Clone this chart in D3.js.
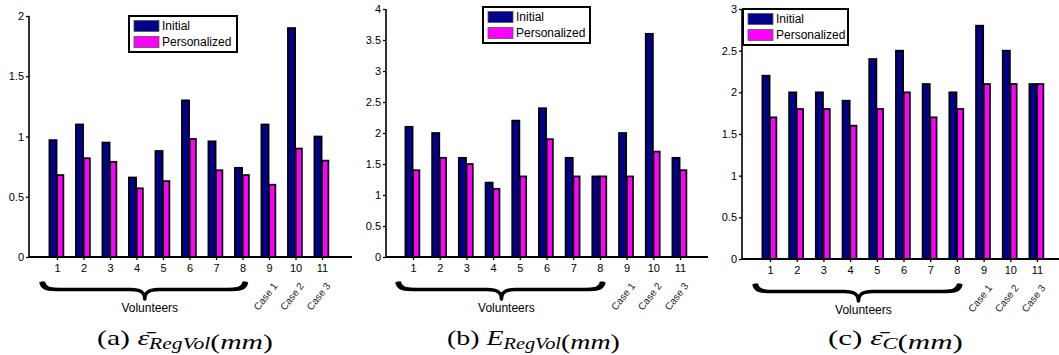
<!DOCTYPE html>
<html>
<head>
<meta charset="utf-8">
<script src="https://cdn.jsdelivr.net/npm/d3@7"></script>
<style>
  html, body { margin: 0; padding: 0; background: #fff; }
  svg { display: block; }
</style>
</head>
<body>
<svg id="chart" width="1059" height="355"></svg>
<script>
// ---------------- data ----------------
const categories = ["1","2","3","4","5","6","7","8","9","10","11"];
const caseLabels = ["Case 1","Case 2","Case 3"];
const caseCategories = ["9","10","11"];
const volunteerCategories = ["1","2","3","4","5","6","7","8"];
const seriesNames = ["Initial","Personalized"];
const groupLabel = "Volunteers";

// (a) mean epsilon RegVol (mm)
const initialA      = [0.97, 1.10, 0.95, 0.66, 0.88, 1.30, 0.96, 0.74, 1.10, 1.90, 1.00];
const personalizedA = [0.68, 0.82, 0.79, 0.57, 0.63, 0.98, 0.72, 0.68, 0.60, 0.90, 0.80];
// (b) E RegVol (mm)
const initialB      = [2.1, 2.0, 1.6, 1.2, 2.2, 2.4, 1.6, 1.3, 2.0, 3.6, 1.6];
const personalizedB = [1.4, 1.6, 1.5, 1.1, 1.3, 1.9, 1.3, 1.3, 1.3, 1.7, 1.4];
// (c) mean epsilon C (mm)
const initialC      = [2.2, 2.0, 2.0, 1.9, 2.4, 2.5, 2.1, 2.0, 2.8, 2.5, 2.1];
const personalizedC = [1.7, 1.8, 1.8, 1.6, 1.8, 2.0, 1.7, 1.8, 2.1, 2.1, 2.1];

const yTicksA = [0, 0.5, 1, 1.5, 2];
const yTicksB = [0, 0.5, 1, 1.5, 2, 2.5, 3, 3.5, 4];
const yTicksC = [0, 0.5, 1, 1.5, 2, 2.5, 3];

// caption pieces: [text, style] ; r=roman, i=italic, s=italic subscript, bar=epsilon with bar
const captionA = [["(a) ","r"],["ε","bar"],["RegVol","s"],["(","r"],["mm","i"],[")","r"]];
const captionB = [["(b) ","r"],["E","i"],["RegVol","s"],["(","r"],["mm","i"],[")","r"]];
const captionC = [["(c) ","r"],["ε","bar"],["C","s"],["(","r"],["mm","i"],[")","r"]];

// ---------------- layout ----------------
const SANS = "'Liberation Sans', Arial, Helvetica, sans-serif";
const SERIF = "'Liberation Serif', 'Times New Roman', serif";
const colors = { Initial: "#00008b", Personalized: "#ff00ff" };

const panels = [
  { init: initialA, pers: personalizedA, yTicks: yTicksA, yMax: 2,
    axisX0: 29, axisX1: 352, y0: 257, yTop: 16, c1: 57, c11: 322,
    legend: { x: 129, y: 16, w: 108, h: 36 },
    caption: captionA, capX0: 97, capX1: 273 },
  { init: initialB, pers: personalizedB, yTicks: yTicksB, yMax: 4,
    axisX0: 386, axisX1: 708, y0: 257, yTop: 9, c1: 413, c11: 680,
    legend: { x: 483, y: 7, w: 107, h: 36 },
    caption: captionB, capX0: 447, capX1: 620 },
  { init: initialC, pers: personalizedC, yTicks: yTicksC, yMax: 3,
    axisX0: 742, axisX1: 1059, y0: 259, yTop: 9, c1: 770, c11: 1037,
    legend: { x: 743, y: 9, w: 105, h: 36 },
    caption: captionC, capX0: 828, capX1: 963 }
];

const svg = d3.select("#chart");

panels.forEach(p => {
  const g = svg.append("g");
  const x = d3.scalePoint().domain(categories).range([p.c1, p.c11]);
  const y = d3.scaleLinear().domain([0, p.yMax]).range([p.y0, p.yTop]);

  const rows = categories.map((c, i) => ({ c, init: p.init[i], pers: p.pers[i] }));

  // bars
  g.selectAll("rect.init").data(rows).enter().append("rect")
    .attr("class", "init")
    .attr("x", d => x(d.c) - 7.6)
    .attr("width", 7.2)
    .attr("y", d => y(d.init))
    .attr("height", d => y(0) - y(d.init))
    .attr("fill", colors.Initial)
    .attr("stroke", "#000").attr("stroke-width", 1.7);

  g.selectAll("rect.pers").data(rows).enter().append("rect")
    .attr("class", "pers")
    .attr("x", d => x(d.c) + 0.2)
    .attr("width", 6.2)
    .attr("y", d => y(d.pers))
    .attr("height", d => y(0) - y(d.pers))
    .attr("fill", colors.Personalized)
    .attr("stroke", "#000").attr("stroke-width", 1.7);

  // y axis
  const yAxis = d3.axisLeft(y).tickValues(p.yTicks).tickSize(3).tickPadding(2)
    .tickFormat(d3.format("~g"));
  const ya = g.append("g").attr("transform", `translate(${p.axisX0},0)`).call(yAxis);
  ya.select(".domain").attr("stroke", "#000").attr("stroke-width", 1.6)
    .attr("d", `M0,${p.y0}V${p.yTop}`);
  ya.selectAll(".tick line").attr("stroke", "#000").attr("stroke-width", 1.3);
  ya.selectAll(".tick text").attr("font-size", 11).attr("fill", "#000")
    .style("font-family", SANS);

  // x axis
  const xAxis = d3.axisBottom(x).tickSize(3).tickPadding(4);
  const xa = g.append("g").attr("transform", `translate(0,${p.y0})`).call(xAxis);
  xa.select(".domain").attr("stroke", "#000").attr("stroke-width", 2)
    .attr("d", `M${p.axisX0},0H${p.axisX1}`);
  xa.selectAll(".tick line").attr("stroke", "#000").attr("stroke-width", 1.3);
  xa.selectAll(".tick text").attr("font-size", 11).attr("fill", "#000")
    .style("font-family", SANS);

  // case labels (rotated)
  caseLabels.forEach((lab, i) => {
    const cx = x(caseCategories[i]) + 9, cy = p.y0 + 29;
    g.append("text")
      .attr("transform", `translate(${cx},${cy}) rotate(-52)`)
      .attr("text-anchor", "end")
      .attr("font-size", 10)
      .attr("fill", "#222")
      .style("font-family", SANS)
      .text(lab);
  });

  // brace under volunteers
  const xL = x(volunteerCategories[0]) - 16;
  const xR = x(volunteerCategories[volunteerCategories.length - 1]) + 4;
  const xm = (x(volunteerCategories[0]) + x(volunteerCategories[volunteerCategories.length - 1])) / 2 - 5;
  const yT = p.y0 + 25, yM = p.y0 + 32.5, yB = p.y0 + 42;
  const bracePath = `M${xL},${yT} C${xL + 1},${yM} ${xL + 8},${yM} ${xL + 20},${yM}
    L${xm - 14},${yM} C${xm - 5},${yM} ${xm},${yM + 2} ${xm},${yB}
    C${xm},${yM + 2} ${xm + 5},${yM} ${xm + 14},${yM}
    L${xR - 20},${yM} C${xR - 8},${yM} ${xR - 1},${yM} ${xR},${yT}`;
  g.append("path").attr("d", bracePath)
    .attr("fill", "none").attr("stroke", "#000").attr("stroke-width", 3.6)
    .attr("stroke-linecap", "butt").attr("stroke-linejoin", "round");
  [[xL, 1], [xR, -1]].forEach(([ex, s]) => {
    g.append("path")
      .attr("d", `M${ex},${yT - 0.5} C${ex + s * 1},${yM} ${ex + s * 8},${yM + 1.5} ${ex + s * 18},${yM + 1.5}
        L${ex + s * 18},${yM - 1.5} C${ex + s * 10},${yM - 1.5} ${ex + s * 5},${yM - 3} ${ex + s * 4},${yT - 0.5} Z`)
      .attr("fill", "#000");
  });

  g.append("text")
    .attr("x", xm + 5).attr("y", p.y0 + 55)
    .attr("text-anchor", "middle").attr("font-size", 12).attr("fill", "#000")
    .style("font-family", SANS)
    .text(groupLabel);

  // legend
  const L = p.legend;
  const lg = g.append("g").attr("transform", `translate(${L.x},${L.y})`);
  lg.append("rect").attr("width", L.w).attr("height", L.h)
    .attr("fill", "#fff").attr("stroke", "#000").attr("stroke-width", 2);
  seriesNames.forEach((s, i) => {
    lg.append("rect").attr("x", 5).attr("y", 4.5 + i * 16).attr("width", 25).attr("height", 11)
      .attr("fill", colors[s]).attr("stroke", "#555").attr("stroke-width", 0.8);
    lg.append("text").attr("x", 33).attr("y", 14 + i * 16)
      .attr("font-size", 12).attr("fill", "#000")
      .style("font-family", SANS).text(s);
  });

  // caption
  const cg = g.append("g");
  const ct = cg.append("text").attr("x", 0).attr("y", 0)
    .style("font-family", SERIF)
    .attr("font-size", 22).attr("fill", "#000");
  p.caption.forEach(([t, st]) => {
    if (st === "r") {
      ct.append("tspan").text(t);
    } else if (st === "i") {
      ct.append("tspan").attr("font-style", "italic").text(t);
    } else if (st === "bar") {
      ct.append("tspan").attr("font-style", "italic").text(t + "\u0304");
    } else if (st === "s") {
      ct.append("tspan").attr("font-style", "italic").attr("font-size", 16)
        .attr("dy", 4).text(t);
      ct.append("tspan").attr("dy", -4).text("");
    }
  });
  const bb = ct.node().getBBox();
  const sx = (p.capX1 - p.capX0) / bb.width;
  cg.attr("transform", `translate(${p.capX0 - bb.x * sx},${345}) scale(${sx},1)`);
});
</script>
</body>
</html>
